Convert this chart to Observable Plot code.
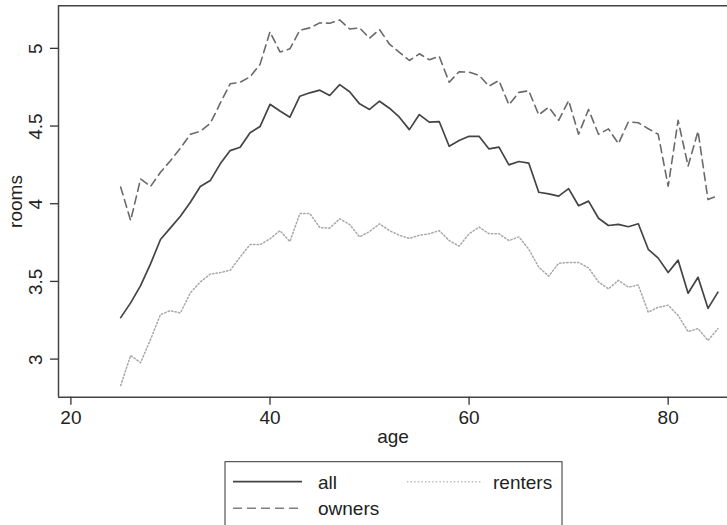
<!DOCTYPE html>
<html><head><meta charset="utf-8">
<script src="https://cdn.jsdelivr.net/npm/d3@7"></script>
<script src="https://cdn.jsdelivr.net/npm/@observablehq/plot@0.6"></script>
<style>html,body{margin:0;padding:0;background:#fff;} svg{display:block;}</style>
</head><body><div id="chart"></div>
<script>
const ages = d3.range(25, 86);
const allRooms = [3.27,3.365,3.476,3.616,3.773,3.848,3.923,4.013,4.114,4.152,4.26,4.345,4.367,4.46,4.50,4.643,4.60,4.56,4.695,4.717,4.734,4.70,4.77,4.724,4.646,4.61,4.663,4.618,4.56,4.48,4.577,4.528,4.532,4.373,4.41,4.437,4.437,4.356,4.367,4.253,4.275,4.264,4.077,4.067,4.052,4.10,3.99,4.02,3.91,3.863,3.87,3.855,3.874,3.71,3.653,3.56,3.64,3.427,3.53,3.33,3.434];
const ownerRooms = [4.11,3.895,4.163,4.114,4.206,4.28,4.36,4.45,4.47,4.52,4.65,4.775,4.785,4.82,4.90,5.11,4.98,5.00,5.12,5.135,5.167,5.165,5.186,5.128,5.135,5.068,5.124,5.03,4.978,4.925,4.968,4.93,4.952,4.785,4.853,4.85,4.83,4.76,4.796,4.64,4.72,4.73,4.575,4.625,4.54,4.667,4.45,4.61,4.45,4.485,4.39,4.53,4.524,4.486,4.45,4.116,4.54,4.245,4.47,4.03,4.055];
const renterRooms = [2.833,3.027,2.98,3.13,3.29,3.315,3.30,3.43,3.5,3.55,3.56,3.575,3.66,3.74,3.74,3.777,3.83,3.76,3.94,3.94,3.85,3.846,3.906,3.87,3.79,3.824,3.874,3.83,3.80,3.78,3.80,3.81,3.83,3.766,3.73,3.81,3.853,3.81,3.81,3.766,3.79,3.71,3.595,3.537,3.62,3.625,3.625,3.59,3.5,3.455,3.51,3.466,3.48,3.305,3.337,3.35,3.284,3.18,3.2,3.123,3.2];
const xTicks = [20, 40, 60, 80];
const yTicks = [3, 3.5, 4, 4.5, 5];
const xDomain = [18.754, 85.96];
const yDomain = [2.758, 5.277];
const legendLabels = ["all", "owners", "renters"];

const styles = {
  all: {stroke: "#444", strokeWidth: 1.7, dash: null},
  owners: {stroke: "#6a6a6a", strokeWidth: 1.6, dash: "8,5"},
  renters: {stroke: "#a8a8a8", strokeWidth: 1.5, dash: "1.4,2.2"}
};
const seriesData = {all: allRooms, owners: ownerRooms, renters: renterRooms};
const rowsFor = k => ages.map((a, i) => ({age: a, rooms: seriesData[k][i]}));

const font = "'Liberation Sans', Arial, Helvetica, sans-serif";
const lineMark = k => Plot.line(rowsFor(k), {x: "age", y: "rooms", stroke: styles[k].stroke, strokeWidth: styles[k].strokeWidth, strokeDasharray: styles[k].dash, strokeLinejoin: "round"});

const chart = Plot.plot({
  width: 727, height: 525,
  marginLeft: 58, marginRight: 0, marginTop: 5.3, marginBottom: 128.3,
  style: {fontFamily: font, background: "#fff", color: "#222"},
  x: {domain: xDomain, axis: null},
  y: {domain: yDomain, axis: null},
  marks: [
    lineMark("renters"),
    lineMark("owners"),
    lineMark("all"),
    Plot.ruleY([yDomain[0], yDomain[1]], {stroke: "#444", strokeWidth: 1.5}),
    Plot.ruleX([xDomain[0]], {stroke: "#444", strokeWidth: 1.5}),
    Plot.axisX({ticks: xTicks, tickSize: 8, tickPadding: 5, fontSize: 19, label: null, stroke: "#333", strokeWidth: 1.3, fill: "#222"}),
    Plot.text(yTicks, {y: d => d, text: d => String(d), frameAnchor: "left", dx: -23, rotate: -90, textAnchor: "middle", lineAnchor: "middle", fontSize: 19, fill: "#222"}),
    Plot.text(["rooms"], {frameAnchor: "left", dx: -43, rotate: -90, textAnchor: "middle", lineAnchor: "middle", fontSize: 19, fill: "#222"}),
    Plot.text(["age"], {frameAnchor: "bottom", dy: 39.5, textAnchor: "middle", lineAnchor: "middle", fontSize: 19, fill: "#222"})
  ]
});

const svg = d3.select(chart);
const ys = chart.scale("y");
const gt = svg.append("g").attr("stroke", "#333").attr("stroke-width", 1.3);
yTicks.forEach(t => {
  const y = ys.apply(t);
  gt.append("line").attr("x1", 50).attr("x2", 58).attr("y1", y).attr("y2", y);
});

// legend
const lg = svg.append("g").attr("font-family", font).attr("font-size", 19).attr("fill", "#222").attr("text-anchor", "start");
lg.append("rect").attr("x", 225).attr("y", 461.7).attr("width", 337).attr("height", 120)
  .attr("fill", "#fff").attr("stroke", "#333").attr("stroke-width", 1);
const legendPos = {
  all: {x: 233, y: 481.7},
  renters: {x: 407, y: 481.7},
  owners: {x: 233, y: 508.3}
};
const legendColor = {all: "#444", owners: "#808080", renters: "#bbb"};
legendLabels.forEach(k => {
  const p = legendPos[k];
  const w = k === "renters" ? 75 : 69;
  const ln = lg.append("line").attr("x1", p.x).attr("x2", p.x + w).attr("y1", p.y).attr("y2", p.y)
    .attr("stroke", legendColor[k]).attr("stroke-width", styles[k].strokeWidth);
  if (styles[k].dash) ln.attr("stroke-dasharray", k === "owners" ? "9,5" : "1.4,2.2");
  lg.append("text").attr("x", k === "renters" ? 493 : 318).attr("y", p.y + 6.8).text(k);
});

document.getElementById("chart").appendChild(chart);
</script>
</body></html>
